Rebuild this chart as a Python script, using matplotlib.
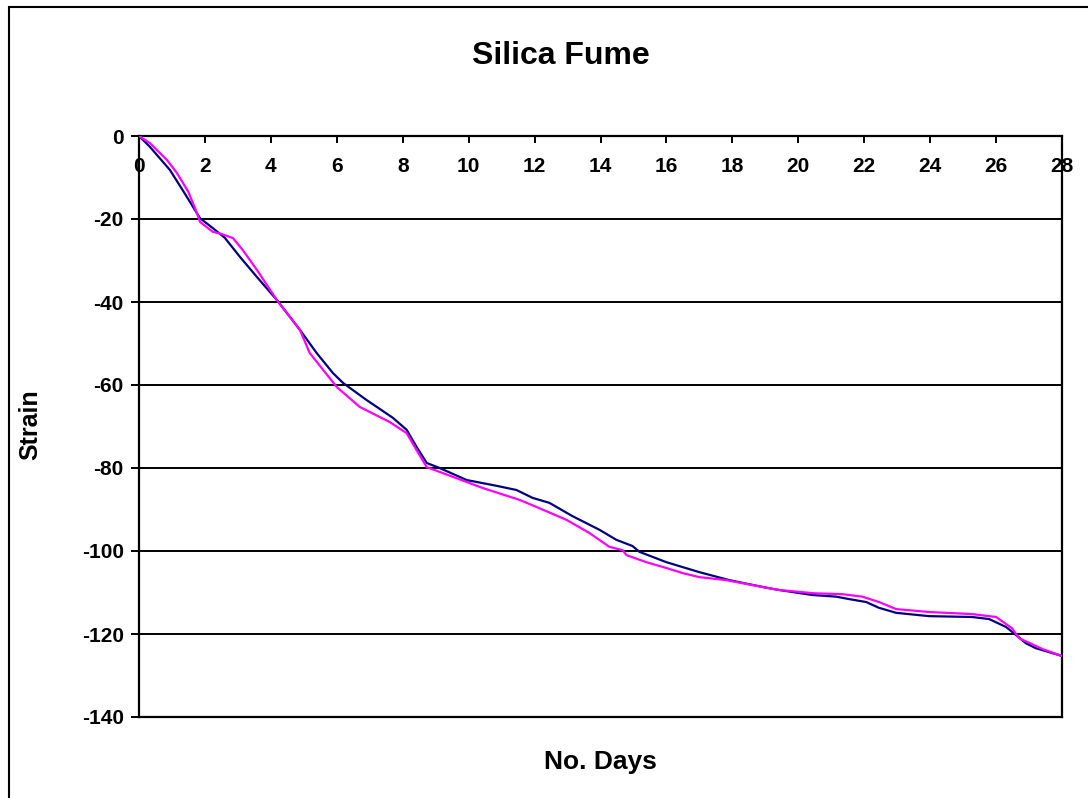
import matplotlib.pyplot as plt
from matplotlib.patches import Rectangle

plt.rcParams['font.family'] = ['Liberation Sans', 'DejaVu Sans']
plt.rcParams['font.weight'] = 'bold'
plt.rcParams['axes.unicode_minus'] = False

# series 1 (navy)
days_a = [0, 0.33, 0.94, 1.4, 1.85, 2.24, 2.6, 3.06, 3.58, 4.18, 4.88, 5.39, 5.88,
          6.19, 6.9, 7.7, 8.12, 8.42, 8.73, 9.12, 9.94, 10.85, 11.45, 11.94, 12.45,
          13.15, 13.97, 14.48, 14.97, 15.18, 16.0, 17.0, 17.9, 19.0, 19.42, 20.42,
          21.15, 21.55, 22.06, 22.45, 22.97, 23.97, 25.27, 25.79, 26.3, 26.6, 26.9,
          27.2, 28]
strain_a = [0, -2.6, -8.2, -14.0, -19.8, -22.2, -24.5, -29.1, -34.0, -39.5, -46.7,
            -52.3, -57.1, -59.5, -63.6, -67.9, -70.8, -74.9, -78.8, -80.0, -82.9,
            -84.3, -85.3, -87.2, -88.4, -91.6, -94.9, -97.3, -98.8, -100.2, -102.7,
            -105.1, -107.0, -108.8, -109.4, -110.6, -111.0, -111.6, -112.3, -113.7,
            -114.9, -115.7, -115.9, -116.4, -118.3, -120.2, -122.2, -123.4, -125.3]

# series 2 (magenta)
days_b = [0, 0.33, 0.85, 1.15, 1.5, 1.76, 1.85, 2.24, 2.5, 2.85, 3.15, 3.58, 4.18, 4.88,
          5.18, 6.0, 6.7, 7.6, 8.12, 8.42, 8.73, 9.21, 10.42, 11.55, 12.06, 12.97, 13.67,
          14.27, 14.67, 14.79, 15.39, 16.0, 16.48, 17.0, 17.8, 19.0, 19.42, 20.5,
          21.33, 21.94, 22.45, 22.97, 23.97, 25.27, 26.0, 26.48, 26.7, 27.4, 28]
strain_b = [0, -1.7, -5.8, -8.9, -13.5, -18.6, -20.7, -23.1, -23.6, -24.6, -27.5, -32.3,
            -39.5, -46.7, -52.3, -60.5, -65.3, -68.9, -71.6, -75.7, -79.8, -81.2, -84.8,
            -87.7, -89.4, -92.5, -95.7, -99.0, -99.8, -101.0, -102.7, -104.1, -105.3,
            -106.3, -107.0, -108.8, -109.4, -110.2, -110.4, -111.0, -112.3, -114.0,
            -114.7, -115.2, -115.9, -118.6, -121.0, -123.6, -125.3]

x_ticks = list(range(0, 29, 2))
y_ticks = list(range(-140, 1, 20))

W, H = 1088, 798
fig = plt.figure(figsize=(W / 100, H / 100), dpi=100)
ax = fig.add_axes([139 / W, 1 - 717 / H, 923 / W, 581 / H])

ax.plot(days_a, strain_a, color='#000080', lw=1.6, zorder=3)
ax.plot(days_b, strain_b, color='#FF00FF', lw=1.6, zorder=3)

ax.set_xlim(0, 28)
ax.set_ylim(-140, 0)
ax.set_xticks(x_ticks)
ax.set_yticks(y_ticks)
ax.xaxis.tick_top()
ax.tick_params(axis='x', direction='in', length=5, width=1.4, labelsize=15, pad=-29)
ax.tick_params(axis='y', direction='out', length=6, width=1.4, labelsize=15, pad=5)
for lab in ax.get_xticklabels() + ax.get_yticklabels():
    lab.set_fontweight('bold')
ax.grid(axis='y', color='black', lw=1.4)
for sp in ax.spines.values():
    sp.set_linewidth(1.6)

fig.text(30 / W, 1 - 425 / H, 'Strain', ha='center', va='center', rotation=90,
         fontsize=18, fontweight='bold')
fig.text(600 / W, 1 - 762 / H, 'No. Days', ha='center', va='center',
         fontsize=19, fontweight='bold')
fig.text(561 / W, 1 - 56 / H, 'Silica Fume', ha='center', va='center',
         fontsize=23, fontweight='bold')

# outer chart frame
fig.patches.append(Rectangle((9 / W, -0.1), 2, 1 - 7 / H + 0.1, transform=fig.transFigure,
                             fill=False, lw=1.5, edgecolor='black'))

fig.savefig('out.png', dpi=100)
